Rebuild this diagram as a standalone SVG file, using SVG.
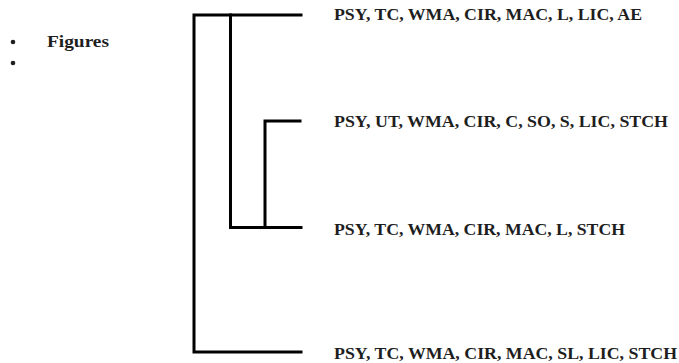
<svg xmlns="http://www.w3.org/2000/svg" width="679" height="363" viewBox="0 0 679 363">
  <style>
    .lbl { font-family: 'Liberation Serif', 'Times New Roman', serif; font-weight: 700; font-size: 17px; fill: #1e1e1e; }
    .edge { fill: none; stroke: #000; stroke-width: 3; stroke-linecap: square; stroke-linejoin: miter; }
  </style>
  <rect width="679" height="363" fill="#fff"/>

  <!-- bullet list -->
  <g id="bullets">
    <circle cx="13" cy="42" r="2.3" fill="#1e1e1e"/>
    <text class="lbl" x="47" y="47" font-size="18" textLength="62" lengthAdjust="spacingAndGlyphs">Figures</text>
    <circle cx="13" cy="63" r="2.3" fill="#1e1e1e"/>
  </g>

  <!-- tree branches -->
  <g id="connectors">
    <path class="edge" d="M301,15 H194 V352 H301"/>
    <path class="edge" d="M230.5,15 V227.5 H301"/>
    <path class="edge" d="M300,121 H265 V227.5"/>
  </g>

  <!-- leaves -->
  <g id="leaf1">
    <text class="lbl" x="334" y="19.5" textLength="308" lengthAdjust="spacingAndGlyphs">PSY, TC, WMA, CIR, MAC, L, LIC, AE</text>
  </g>
  <g id="leaf2">
    <text class="lbl" x="334" y="126.5" textLength="334" lengthAdjust="spacingAndGlyphs">PSY, UT, WMA, CIR, C, SO, S, LIC, STCH</text>
  </g>
  <g id="leaf3">
    <text class="lbl" x="334" y="234.5" textLength="291" lengthAdjust="spacingAndGlyphs">PSY, TC, WMA, CIR, MAC, L, STCH</text>
  </g>
  <g id="leaf4">
    <text class="lbl" x="334" y="358.5" textLength="343" lengthAdjust="spacingAndGlyphs">PSY, TC, WMA, CIR, MAC, SL, LIC, STCH</text>
  </g>
</svg>
